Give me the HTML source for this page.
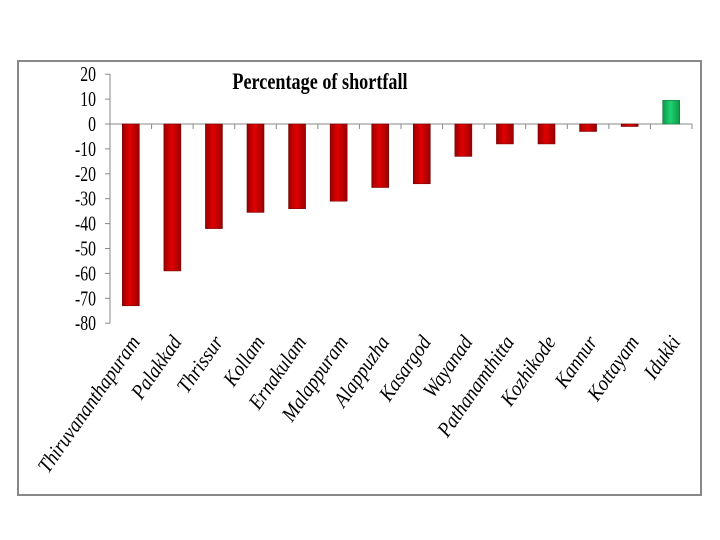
<!DOCTYPE html>
<html><head><meta charset="utf-8"><style>
html,body{margin:0;padding:0;background:#fff;}
svg{display:block;}
</style></head><body>
<svg id="chart" width="720" height="540">
<defs>
<linearGradient id="gr" x1="0" x2="1" y1="0" y2="0">
<stop offset="0" stop-color="#9a0000"/><stop offset="0.45" stop-color="#e00000"/><stop offset="1" stop-color="#9a0000"/>
</linearGradient>
<linearGradient id="gg" x1="0" x2="1" y1="0" y2="0">
<stop offset="0" stop-color="#0a9a4a"/><stop offset="0.45" stop-color="#20d070"/><stop offset="1" stop-color="#0a9a4a"/>
</linearGradient>
</defs>
<rect x="18" y="61" width="683" height="434" fill="#fff" stroke="#888" stroke-width="2"/>
<text x="320" y="89" text-anchor="middle" font-family="Liberation Serif, serif" font-weight="bold" font-size="23" transform="translate(320,0) scale(0.79,1) translate(-320,0)">Percentage of shortfall</text>
<g id="axes"></g>
<g id="bars"></g>
<g id="labels"></g>
</svg>
<script>
const categories=["Thiruvananthapuram","Palakkad","Thrissur","Kollam","Ernakulam","Malappuram","Alappuzha","Kasargod","Wayanad","Pathanamthitta","Kozhikode","Kannur","Kottayam","Idukki"];
const values=[-73,-59,-42,-35.5,-34,-31,-25.5,-24,-13,-8,-8,-3,-1,9.5];
const yTicks=[20,10,0,-10,-20,-30,-40,-50,-60,-70,-80];
const NS="http://www.w3.org/2000/svg";
const x0=110,x1=692,zeroY=124,pxPer=2.49;
const bandW=(x1-x0)/categories.length;
function y(v){return zeroY-v*pxPer;}
function xc(i){return x0+bandW*(i+0.5);}
function mk(t,a,p){const e=document.createElementNS(NS,t);for(const k in a)e.setAttribute(k,a[k]);p.appendChild(e);return e;}
const axes=document.getElementById('axes');
const ax=mk('line',{x1:x0,x2:x0,y1:y(20),y2:y(-80),stroke:'#888'},axes);


yTicks.forEach(v=>{
  mk('line',{x1:x0-5,x2:x0,y1:y(v),y2:y(v),stroke:'#888'},axes);
  const t=mk('text',{x:96,y:y(v)+7,'text-anchor':'end','font-family':'Liberation Serif, serif','font-size':'21',transform:`translate(96,0) scale(0.75,1) translate(-96,0)`},axes);
  t.textContent=v;
  
  
});
const xa=mk('line',{x1:x0,x2:x1,y1:zeroY,y2:zeroY,stroke:'#888'},axes);


for(let i=0;i<=categories.length;i++){mk('line',{x1:x0+bandW*i,x2:x0+bandW*i,y1:zeroY,y2:zeroY+5,stroke:'#888'},axes);}
const bars=document.getElementById('bars'),labels=document.getElementById('labels');
categories.forEach((c,i)=>{
  const v=values[i],w=17,cx=xc(i);
  const top=Math.min(y(v),zeroY),h=Math.max(Math.abs(y(v)-zeroY),1.5);
  const r=mk('rect',{x:cx-w/2,y:top,width:w,height:h,fill:v<0?'url(#gr)':'url(#gg)',stroke:v<0?'#7a0000':'#0a7a3a','stroke-width':'0.6'},bars);
  
  
  const lx=cx+10,ly=342;
  const t=mk('text',{x:0,y:0,'text-anchor':'end','font-family':'Liberation Serif, serif','font-style':'italic','font-size':'21',transform:`translate(${lx} ${ly}) rotate(-55) scale(0.9,1)`},labels);
  t.textContent=c;
  
  
});
</script>
</body></html>
